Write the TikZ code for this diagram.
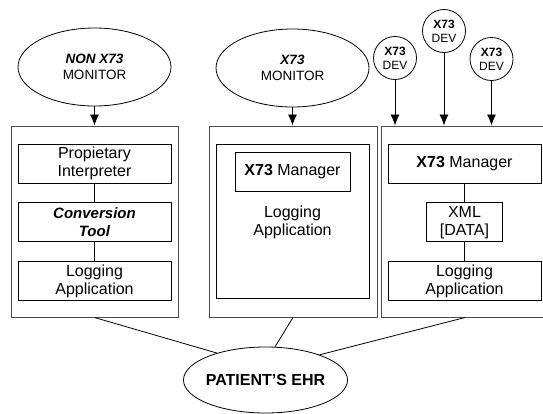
\documentclass[tikz,border=0pt]{standalone}
\usepackage{fontspec}
\setmainfont{Liberation Sans}
\usetikzlibrary{positioning,shapes.geometric,arrows.meta}

\begin{document}
\begin{tikzpicture}[x=1pt,y=-1pt,node distance=19pt,
		outer/.style={rectangle, draw=black!70, line width=1pt},
		inner/.style={rectangle, draw, line width=0.8pt, align=center, inner sep=0pt, minimum width=153pt, minimum height=39pt, font=\fontsize{16}{18}\selectfont},
		monitor/.style={ellipse, draw, line width=0.8pt, align=center, inner sep=0pt, minimum width=153pt, minimum height=78pt, font=\fontsize{13.5}{16.5}\selectfont},
		dev/.style={circle, draw, line width=0.8pt, align=center, inner sep=0pt, minimum size=43pt, font=\fontsize{12}{14}\selectfont},
		feed/.style={-{Latex[length=11pt,width=9pt]}, line width=0.8pt}]
	\clip (0,0) rectangle (543,413);

	% monitors
	\node (nonmon) [monitor] at (94.5,67) {\textbf{\textit{NON X73}}\\MONITOR};
	\node (x73mon) [monitor] at (292.5,68) {\textbf{\textit{X73}}\\MONITOR};
	\node (dev1) [dev] at (395,58) {\textbf{X73}\\DEV};
	\node (dev2) [dev] at (444,31) {\textbf{X73}\\DEV};
	\node (dev3) [dev] at (491.5,59) {\textbf{X73}\\DEV};

	% the three systems
	\node (lft) [outer, minimum width=167pt, minimum height=191pt] at (94.5,221.5) {};
	\node (mid) [outer, minimum width=168pt, minimum height=191pt] at (293,221.5) {};
	\node (rgt) [outer, minimum width=168pt, minimum height=191pt] at (465,221.5) {};

	\node (prop) [inner] at (94.5,163.5) {Propietary\\Interpreter};
	\node (conv) [inner, below=19pt of prop, font=\fontsize{15}{18}\selectfont] {\textbf{\textit{Conversion}}\\\textbf{\textit{Tool}}};
	\node (logL) [inner, below=19pt of conv] {Logging\\Application};

	\node (box) [inner, minimum height=154pt] at (292.5,221) {};
	\node (mgrM) [inner, minimum width=115pt] at (292.5,171.5) {\textbf{X73} Manager};
	\node (logM) [align=center, font=\fontsize{16}{18}\selectfont] at (292.5,222) {Logging\\Application};

	\node (mgrR) [inner] at (464.5,163.5) {\textbf{X73} Manager};
	\node (xml) [inner, minimum width=76pt, below=19pt of mgrR] {XML\\{[DATA]}};
	\node (logR) [inner, below=19pt of xml] {Logging\\Application};

	\node (ehr) [ellipse, draw, line width=0.8pt, inner sep=0pt, inner xsep=-5pt, minimum width=164pt, minimum height=66pt, font=\fontsize{16}{18}\selectfont\bfseries] at (265.5,380) {PATIENT'S EHR};

	\draw[feed] (nonmon.south) -- (nonmon.south |- lft.north);
	\draw[feed] (x73mon.south) -- (x73mon.south |- mid.north);
	\draw[feed] (dev1.south) -- (dev1.south |- rgt.north);
	\draw[feed] (dev2.south) -- (dev2.south |- rgt.north);
	\draw[feed] (dev3.south) -- (dev3.south |- rgt.north);

	\draw[line width=0.8pt] (prop) -- (conv);
	\draw[line width=0.8pt] (conv) -- (logL);
	\draw[line width=0.8pt] (mgrR) -- (xml);
	\draw[line width=0.8pt] (xml) -- (logR);

	\draw[line width=0.8pt] (lft.south) -- (ehr.151);
	\draw[line width=0.8pt] (mid.south) -- (ehr.74);
	\draw[line width=0.8pt] (rgt.south) -- (ehr.25);
\end{tikzpicture}
\end{document}
